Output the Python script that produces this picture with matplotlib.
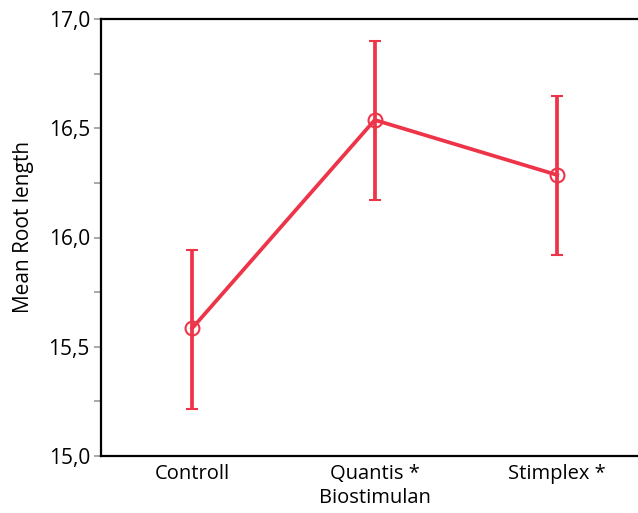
import matplotlib
matplotlib.use("Agg")
import matplotlib.pyplot as plt
from matplotlib.ticker import FuncFormatter, MultipleLocator

# Data
groups = ['Controll', 'Quantis *\nBiostimulan', 'Stimplex *']
means = [15.585, 16.538, 16.286]
upper = [15.945, 16.900, 16.648]
lower = [15.215, 16.172, 15.920]

RED = '#EE3448'

plt.rcParams['font.family'] = ['Open Sans', 'DejaVu Sans']

fig = plt.figure(figsize=(6.38, 5.13), dpi=100)
# axes run off the right edge of the figure, as in the reference
ax = fig.add_axes([101 / 638, 1 - 456 / 513, 600 / 638, 437 / 513])

x = list(range(len(groups)))
err = [[m - l for m, l in zip(means, lower)], [u - m for u, m in zip(upper, means)]]
ax.errorbar(x, means, yerr=err, color=RED, lw=2.7, elinewidth=2.7,
            capsize=4.5, capthick=2.7, marker='o', markersize=10,
            markerfacecolor='none', markeredgecolor=RED, markeredgewidth=1.5)

ax.set_xlim(-0.5, -0.5 + 600 / 182.5)
ax.set_ylim(15.0, 17.0)
ax.set_xticks(x)
ax.set_xticklabels(groups, fontsize=14.5, linespacing=1.25)
ax.tick_params(axis='x', length=0, pad=6)

ax.yaxis.set_major_locator(MultipleLocator(0.5))
ax.yaxis.set_minor_locator(MultipleLocator(0.25))
ax.yaxis.set_major_formatter(FuncFormatter(lambda v, p: f'{v:.1f}'.replace('.', ',')))
ax.tick_params(axis='y', which='both', length=5, width=1.2, color='#999999',
               labelsize=15, pad=3)

for s in ax.spines.values():
    s.set_linewidth(1.6)
    s.set_color('black')
ax.spines['right'].set_visible(False)

ax.set_ylabel('Mean Root length', fontsize=15)
ax.yaxis.set_label_coords(-0.112, 0.524)

fig.savefig('out.png', dpi=100)
